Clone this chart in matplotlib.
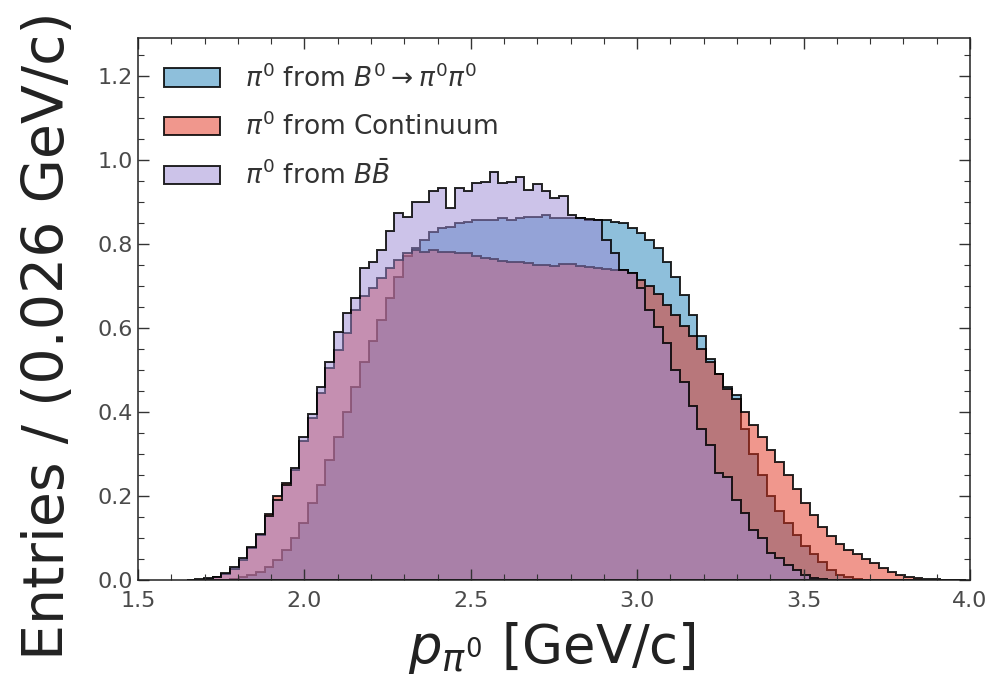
import numpy as np
import matplotlib
matplotlib.use("Agg")
import matplotlib.pyplot as plt
from matplotlib.ticker import MultipleLocator

# Binning: 0.026 GeV/c wide bins
bin_width = 0.026
bin_start = 1.6467
n_bins = 90

# Normalised entries per bin
signal = [
    0.000, 0.000, 0.000, 0.000, 0.001, 0.003, 0.006, 0.012, 0.020, 0.032,
    0.048, 0.071, 0.100, 0.136, 0.183, 0.226, 0.285, 0.340, 0.400, 0.460,
    0.520, 0.570, 0.620, 0.670, 0.720, 0.770, 0.790, 0.810, 0.829, 0.837,
    0.841, 0.849, 0.853, 0.857, 0.857, 0.857, 0.861, 0.857, 0.861, 0.865,
    0.865, 0.869, 0.861, 0.861, 0.861, 0.862, 0.857, 0.857, 0.857, 0.853,
    0.849, 0.837, 0.825, 0.810, 0.790, 0.758, 0.722, 0.678, 0.630, 0.580,
    0.525, 0.490, 0.460, 0.440, 0.360, 0.300, 0.250, 0.200, 0.165, 0.135,
    0.108, 0.082, 0.062, 0.042, 0.024, 0.013, 0.006, 0.003, 0.001, 0.000,
    0.000, 0.000, 0.000, 0.000, 0.000, 0.000, 0.000, 0.000, 0.000, 0.000,
]
continuum = [
    0.0005, 0.001, 0.003, 0.007, 0.014, 0.027, 0.048, 0.076, 0.108, 0.156,
    0.200, 0.232, 0.262, 0.330, 0.385, 0.445, 0.505, 0.548, 0.587, 0.643,
    0.675, 0.695, 0.718, 0.743, 0.762, 0.778, 0.785, 0.780, 0.785, 0.780,
    0.780, 0.778, 0.778, 0.772, 0.766, 0.764, 0.760, 0.758, 0.758, 0.755,
    0.750, 0.750, 0.748, 0.752, 0.752, 0.748, 0.745, 0.742, 0.740, 0.738,
    0.738, 0.730, 0.715, 0.700, 0.680, 0.655, 0.630, 0.605, 0.580, 0.550,
    0.520, 0.490, 0.455, 0.430, 0.400, 0.370, 0.340, 0.310, 0.280, 0.250,
    0.216, 0.183, 0.155, 0.127, 0.105, 0.085, 0.072, 0.062, 0.050, 0.040,
    0.029, 0.020, 0.013, 0.008, 0.005, 0.003, 0.002, 0.001, 0.001, 0.0005,
]
bbbar = [
    0.001, 0.002, 0.004, 0.008, 0.016, 0.030, 0.052, 0.078, 0.110, 0.152,
    0.190, 0.226, 0.267, 0.340, 0.395, 0.460, 0.520, 0.590, 0.635, 0.670,
    0.743, 0.758, 0.786, 0.830, 0.873, 0.865, 0.900, 0.900, 0.925, 0.933,
    0.885, 0.933, 0.925, 0.944, 0.948, 0.970, 0.944, 0.948, 0.960, 0.929,
    0.943, 0.925, 0.909, 0.913, 0.869, 0.862, 0.860, 0.857, 0.810, 0.778,
    0.738, 0.730, 0.695, 0.643, 0.603, 0.564, 0.500, 0.472, 0.413, 0.360,
    0.321, 0.254, 0.246, 0.190, 0.159, 0.119, 0.100, 0.064, 0.052, 0.036,
    0.024, 0.012, 0.005, 0.002, 0.001, 0.000, 0.000, 0.000, 0.000, 0.000,
    0.000, 0.000, 0.000, 0.000, 0.000, 0.000, 0.000, 0.000, 0.000, 0.000,
]

labels = [r"$\pi^0$ from $B^0 \rightarrow \pi^0\pi^0$",
          r"$\pi^0$ from Continuum",
          r"$\pi^0$ from $B\bar{B}$"]
colors = ["#1f80b8", "#e2311c", "#9b89d5"]

edges = bin_start + bin_width * np.arange(n_bins + 1)
centers = 0.5 * (edges[:-1] + edges[1:])

W, H = 997, 687
fig = plt.figure(figsize=(W / 100, H / 100), dpi=100)
ax = fig.add_axes([138 / W, 1 - 580 / H, 832 / W, 542 / H])

for vals, col, lab in zip([signal, continuum, bbbar], colors, labels):
    ax.hist(centers, bins=edges, weights=vals, histtype="stepfilled",
            facecolor=matplotlib.colors.to_rgba(col, 0.5),
            edgecolor=(0, 0, 0, 0.85), linewidth=1.4, label=lab)

ax.set_xlim(1.5, 4.0)
ax.set_ylim(0, 1.29)
ax.xaxis.set_major_locator(MultipleLocator(0.5))
ax.xaxis.set_minor_locator(MultipleLocator(0.1))
ax.yaxis.set_major_locator(MultipleLocator(0.2))
ax.yaxis.set_minor_locator(MultipleLocator(0.05))
ax.tick_params(which="both", direction="in", top=True, right=True,
               colors="#333333", labelcolor="#4a4a4a")
ax.tick_params(which="major", length=8, width=1, labelsize=16)
ax.tick_params(which="minor", length=4, width=0.8)
ax.tick_params(axis="x", pad=8)
for sp in ax.spines.values():
    sp.set_color("#222222")
    sp.set_linewidth(1.1)

fig.text(552 / W, 1 - 648 / H, r"$p_{\pi^0}$ [GeV/c]", fontsize=38,
         color="#222222", ha="center", va="center")
fig.text(49 / W, 1 - 336 / H, "Entries / (0.026 GeV/c)", fontsize=41,
         color="#222222", ha="center", va="center", rotation=90)

leg = ax.legend(loc="upper left", frameon=False, fontsize=19,
                handlelength=2.1, handleheight=0.7, handletextpad=0.95,
                borderaxespad=0.6, labelspacing=0.75)
for t in leg.get_texts():
    t.set_color("#333333")

fig.savefig("out.png", dpi=100)
